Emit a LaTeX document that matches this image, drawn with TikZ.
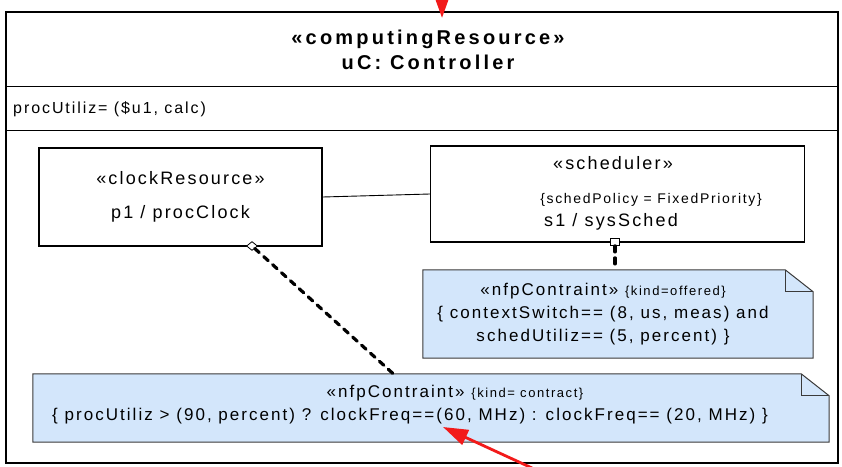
\documentclass[tikz,border=0pt]{standalone}
\usepackage{fontspec}
\setmainfont{Liberation Sans}[LetterSpace=12]
\usepackage{tikz}
\usetikzlibrary{arrows.meta,positioning,shapes.geometric}
\definecolor{NoteBlue}{HTML}{D3E6FB}
\definecolor{NoteEdge}{HTML}{3A3A3A}
\definecolor{MarkRed}{HTML}{F21A1A}
\newcommand{\kindsize}{\fontsize{13}{15}\selectfont}
\newcommand{\noteoutline}[1]{\draw[noteline] (#1.north west) -- ([xshift=-28pt]#1.north east) -- ([yshift=-22pt]#1.north east) -- (#1.south east) -- (#1.south west) -- cycle; \draw[noteline, fill=none] ([xshift=-28pt]#1.north east) |- ([yshift=-22pt]#1.north east);}

\begin{document}
\begin{tikzpicture}[x=1pt, y=-1pt, every node/.style={font=\fontsize{18}{22}\selectfont, inner sep=0pt}, frame/.style={draw, line width=1.2pt, minimum width=832pt, minimum height=451pt}, part/.style={draw, line width=1.6pt, align=center}, note/.style={minimum width=#1}, noteline/.style={draw=NoteEdge, line width=1pt, fill=NoteBlue}, notetext/.style={align=center, font=\fontsize{17}{23}\selectfont}, link/.style={line width=0.9pt}, dep/.style={line width=3.2pt, dash pattern=on 6pt off 6pt, line cap=round}, port/.style={draw, fill=white, line width=0.8pt, inner sep=0pt}, redmark/.style={draw=MarkRed, fill=MarkRed, line width=2.8pt}]
\useasboundingbox (0,0) rectangle (842,466);
% controller frame with its compartments
\node[frame] (uc) at (422,237.5) {};
\draw[line width=1.2pt] ([yshift=-75pt]uc.north west) -- ([yshift=-75pt]uc.north east);
\draw[line width=1.2pt] ([yshift=-119pt]uc.north west) -- ([yshift=-119pt]uc.north east);
\node[font=\bfseries\fontsize{20}{25}\selectfont\addfontfeature{LetterSpace=16}, align=center] (title) at (428,50) {«computingResource»\\uC: Controller};
\node[anchor=west, font=\fontsize{16}{20}\selectfont] (attr) at (13,109) {procUtiliz= (\$u1, calc)};
% parts
\node[part, minimum width=283pt, minimum height=98pt, font=\fontsize{18}{34}\selectfont] (clock) at (180.5,197) {«clockResource»\\p1 / procClock};
\node[part, minimum width=374pt, minimum height=96pt] (sched) [right=107pt of clock, yshift=3pt] {};
\node (schedst) at (613,163) {«scheduler»};
\node[font=\fontsize{14}{16}\selectfont] (policy) at (651,200) {\{schedPolicy = FixedPriority\}};
\node (schedname) at (611,222) {s1 / sysSched};
\draw[link] (clock.east) -- (sched.west);
\node[port, diamond, minimum width=11pt, minimum height=9pt] (clockport) at (252,246) {};
\node[port, minimum width=9pt, minimum height=7pt] (schedport) at (615,242) {};
% constraint notes
\node[note=390pt, minimum height=88pt] (offered) at (618,314) {};
\noteoutline{offered}
\node[notetext] (offeredtext) at (603,314) {«nfpContraint» {\kindsize\{kind=offered\}}\\\{ contextSwitch== (8, us, meas) and\\schedUtiliz== (5, percent) \}};
\node[note=796pt, minimum height=68pt] (contract) at (431,408) {};
\noteoutline{contract}
\node[notetext] (contracthead) at (455,393) {«nfpContraint» {\kindsize\{kind= contract\}}};
\node[notetext] (contractbody) at (410,416) {\{ procUtiliz > (90, percent) ? clockFreq==(60, MHz) : clockFreq== (20, MHz) \}};
\draw[dep] (clockport) -- (contract);
\draw[dep] (schedport) -- (schedport |- offered.north);
% red markers
\coordinate (topin) at (442,0);
\coordinate (toptip) at (442,18);
\draw[redmark, -{Triangle[length=18pt,width=12pt]}] (topin) -- (toptip);
\coordinate (botin) at (532,468);
\coordinate (bottip) at (443,427);
\draw[redmark, -{Triangle[length=25pt,width=16pt]}] (botin) -- (bottip);
\end{tikzpicture}
\end{document}
